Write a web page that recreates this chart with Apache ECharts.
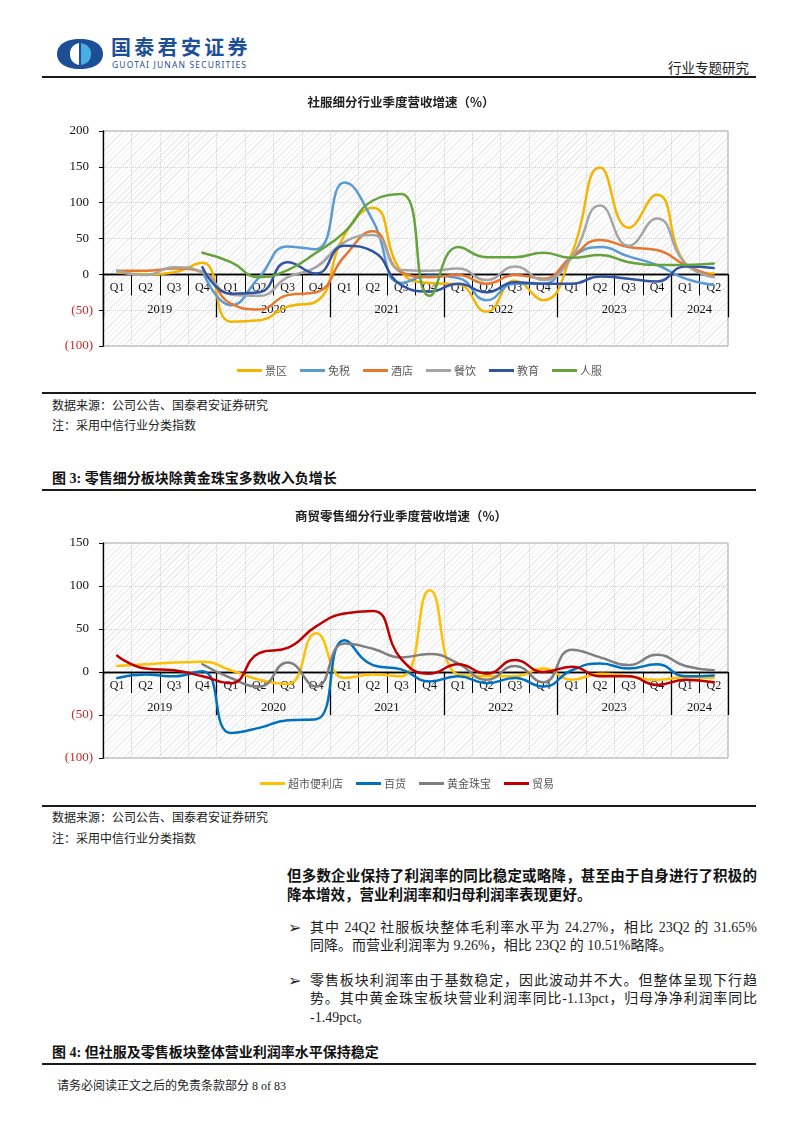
<!DOCTYPE html>
<html><head><meta charset="utf-8">
<script src="https://cdn.jsdelivr.net/npm/echarts@6/dist/echarts.min.js"></script>
<style>
html,body{margin:0;padding:0;background:#fff;}
#page{position:relative;width:802px;height:1133px;overflow:hidden;background:#fff;font-family:"Liberation Serif","Noto Sans CJK SC",serif;color:#111;}
.t{position:absolute;white-space:nowrap;}
.rule{position:absolute;left:42px;width:714px;height:2px;background:#1a1a1a;}
.hatch{position:absolute;background:repeating-linear-gradient(-45deg,#fff 0,#fff 3px,#ececec 3px,#ececec 4px);}
.chart{position:absolute;left:0;width:802px;height:300px;}
.j{text-align:justify;text-align-last:justify;white-space:normal;}
.src{font-size:12px;line-height:14px;color:#222;}
.fig{font-size:14px;line-height:16px;font-weight:bold;color:#111;}
.body{font-size:14px;line-height:18px;color:#222;}
.bold{font-size:14.5px;line-height:18px;font-weight:bold;color:#111;}
.bul{font-size:16px;line-height:18px;color:#222;font-family:'DejaVu Sans';}
</style></head>
<body><div id="page">
<svg class="t" style="left:57px;top:39px" width="46" height="30" viewBox="0 0 46 30">
 <path d="M23 0 C7 0 0 7 0 15 C0 23 7 30 23 30 C39 30 46 23 46 15 C46 7 39 0 23 0Z" fill="#1d4f97"/>
 <path d="M22 4 C15 6 13 10 13 15 C13 20 15 24 22 26 Z" fill="#fff"/>
 <path d="M24 4 C32 6 34 10 34 15 C34 20 32 24 24 26 Z" fill="#49aee8"/>
</svg>
<div class="t" style="left:111px;top:35px;font-size:20px;line-height:24px;font-weight:bold;color:#1d4f97;font-family:'Noto Sans CJK SC';letter-spacing:3.3px">国泰君安证券</div>
<div class="t" style="left:112px;top:60px;font-size:8.5px;line-height:10px;color:#1d4f97;font-family:'Noto Sans','DejaVu Sans';letter-spacing:1.15px">GUOTAI JUNAN SECURITIES</div>
<div class="t" style="left:668px;top:59px;font-size:13.5px;line-height:16px;color:#222;font-family:'Noto Sans CJK SC'">行业专题研究</div>
<div class="rule" style="top:76px"></div>

<div class="hatch" style="left:103px;top:131px;width:625px;height:215px"></div>
<div id="c1" class="chart" style="top:90px"></div>
<div class="rule" style="top:392px"></div>
<div class="t src" style="left:52px;top:399px">数据来源：公司公告、国泰君安证券研究</div>
<div class="t src" style="left:52px;top:419px">注：采用中信行业分类指数</div>
<div class="t fig" style="left:52px;top:471px">图 3: 零售细分板块除黄金珠宝多数收入负增长</div>
<div class="rule" style="top:489px"></div>

<div class="hatch" style="left:103px;top:543px;width:625px;height:215px"></div>
<div id="c2" class="chart" style="top:500px"></div>
<div class="rule" style="top:805px"></div>
<div class="t src" style="left:52px;top:811px">数据来源：公司公告、国泰君安证券研究</div>
<div class="t src" style="left:52px;top:832px">注：采用中信行业分类指数</div>

<div class="t bold j" style="left:287px;top:867px;width:470px">但多数企业保持了利润率的同比稳定或略降，甚至由于自身进行了积极的</div>
<div class="t bold" style="left:287px;top:886px">降本增效，营业利润率和归母利润率表现更好。</div>
<div class="t bul" style="left:288px;top:919px">➢</div>
<div class="t body j" style="left:310px;top:919px;width:447px">其中 24Q2 社服板块整体毛利率水平为 24.27%，相比 23Q2 的 31.65%</div>
<div class="t body" style="left:310px;top:937px">同降。而营业利润率为 9.26%，相比 23Q2 的 10.51%略降。</div>
<div class="t bul" style="left:288px;top:972px">➢</div>
<div class="t body j" style="left:310px;top:972px;width:447px">零售板块利润率由于基数稳定，因此波动并不大。但整体呈现下行趋</div>
<div class="t body j" style="left:310px;top:990px;width:447px">势。其中黄金珠宝板块营业利润率同比-1.13pct，归母净净利润率同比</div>
<div class="t body" style="left:310px;top:1009px">-1.49pct。</div>
<div class="t fig" style="left:52px;top:1045px">图 4: 但社服及零售板块整体营业利润率水平保持稳定</div>
<div class="rule" style="top:1063px"></div>
<div class="t src" style="left:57px;top:1079px">请务必阅读正文之后的免责条款部分 8 of 83</div>
</div>
<script>
// ---------- data ----------
const years = ['2019','2020','2021','2022','2023','2024'];
const quartersPerYear = [4,4,4,4,4,2];
const quarterNames = ['Q1','Q2','Q3','Q4'];

const chart1Title = '社服细分行业季度营收增速（%）';
const chart1Names = ['景区','免税','酒店','餐饮','教育','人服'];
const chart1Colors = ['#F3B500','#5B9BD5','#E8772E','#A5A5A5','#2F55A4','#65A33C'];
const scenic    = [3, 0, 3, 16, -66, -64, -45, -38, 55, 93, 4, -12, -14, -52, -9, -36, 29, 149, 65, 111, 15, 1];
const dutyFree  = [null, null, null, 5, -43, -4, 39, 35, 128, 75, -12, -2, -5, -36, -13, -13, 24, 38, 25, 13, -6, -15];
const hotel     = [5, 5, 8, 3, -41, -49, -29, -25, 25, 60, 3, -4, -1, -13, -1, -6, 24, 48, 38, 34, 13, -3];
const catering  = [5, -1, 10, 3, -28, -30, -4, 10, 45, 55, 6, 5, 8, -8, 11, -8, 24, 96, 40, 78, 15, -4];
const education = [null, null, null, 10, -27, -25, 17, 1, 40, 32, -15, -24, -13, -25, -11, -13, -13, -3, -6, -10, 11, 9];
const apparel   = [null, null, null, 30, 17, -4, 6, 30, 59, 103, 112, -30, 38, 24, 24, 30, 23, 27, 17, 13, 13, 15];

const chart2Title = '商贸零售细分行业季度营收增速（%）';
const chart2Names = ['超市便利店','百货','黄金珠宝','贸易'];
const chart2Colors = ['#FFC000','#0070C0','#7F7F7F','#C00000'];
const supermarket = [7, 9, 11, 12, 2, -9, -14, 45, -7, -3, -5, 95, -3, -5, -5, 4, -9, -2, -5, -9, -6, -7];
const deptStore   = [-7, -3, -5, 1, -71, -65, -56, -55, 37, 8, 3, -11, -5, -13, -7, -17, 2, 10, 4, 9, -5, -4];
const goldJewelry = [null, null, null, 9, -7, -17, 11, -17, 33, 27, 17, 21, 10, -9, 7, -12, 26, 17, 8, 20, 7, 2];
const trade       = [19, 4, 2, -5, -13, 22, 28, 53, 68, 71, 15, -2, 9, -2, 14, 0, 6, -5, -5, -15, -9, -12];

// ---------- axis helpers ----------
const categories = [];
years.forEach((y, i) => { for (let q = 0; q < quartersPerYear[i]; q++) categories.push(y + quarterNames[q]); });
const yearSlots = [];
for (let i = 0; i <= categories.length; i++) yearSlots.push('s' + i);
const yearBoundary = {}; const yearCenter = {};
let acc = 0; yearBoundary[0] = true;
years.forEach((y, i) => { yearCenter[acc + quartersPerYear[i] / 2] = y; acc += quartersPerYear[i]; yearBoundary[acc] = true; });

const SERIF = 'Liberation Serif';
const SANS = 'Noto Sans CJK SC';
const GRID_H = 215;

function buildOption(title, names, colors, dataList, yMin, yMax, legendLeft, titleTop, gridTop, legendTop) {
  // place the category axes on the zero value of the y scale
  const zeroOffset = -GRID_H * (0 - yMin) / (yMax - yMin);
  return {
    animation: false,
    title: { text: title, left: 'center', top: titleTop, padding: 0,
      textStyle: { fontFamily: SANS, fontSize: 12.5, fontWeight: 'bold', color: '#222' } },
    legend: { data: names, left: legendLeft, top: legendTop, icon: 'rect', itemWidth: 25, itemHeight: 3, itemGap: 13,
      selectedMode: false, textStyle: { fontFamily: SANS, fontSize: 11, color: '#595959', padding: [0, 0, 0, -2] } },
    grid: { left: 103, top: gridTop, width: 625, height: GRID_H, show: true, borderColor: '#a0a0a0', borderWidth: 1,
      backgroundColor: 'transparent', containLabel: false, outerBoundsMode: 'none' },
    xAxis: [
      { type: 'category', data: categories, boundaryGap: true, position: 'bottom', offset: zeroOffset,
        axisLine: { show: true, onZero: false, lineStyle: { color: '#000', width: 1.3 } },
        axisTick: { show: true, interval: 0, length: 21, lineStyle: { color: '#000', width: 1 } },
        axisLabel: { interval: 0, margin: 8, fontFamily: SERIF, fontSize: 12, color: '#111',
          formatter: v => v.slice(4) },
        splitLine: { show: true, interval: 0, lineStyle: { color: '#d2d2d2', type: 'dotted', width: 1 } } },
      { type: 'category', data: yearSlots, boundaryGap: false, position: 'bottom', offset: zeroOffset,
        axisLine: { show: true, onZero: false, lineStyle: { color: '#000', width: 1.3 } },
        axisTick: { show: true, length: 43, interval: (i) => !!yearBoundary[i], lineStyle: { color: '#000', width: 1.3 } },
        axisLabel: { interval: (i) => yearCenter[i] !== undefined, margin: 29, fontFamily: SERIF, fontSize: 12.5, color: '#111',
          formatter: (v, i) => yearCenter[i] || '' },
        splitLine: { show: false } }
    ],
    yAxis: { type: 'value', min: yMin, max: yMax, interval: 50,
      axisLine: { show: true, onZero: false, lineStyle: { color: '#000', width: 1.3 } },
      axisTick: { show: true, length: 4, lineStyle: { color: '#000' } },
      axisLabel: { margin: 10, fontFamily: SERIF, fontSize: 13,
        formatter: v => v < 0 ? '{n|(' + (-v) + ')}' : '{p|' + v + '}',
        rich: { n: { color: '#C62828', fontFamily: SERIF, fontSize: 13 },
                p: { color: '#111', fontFamily: SERIF, fontSize: 13, padding: [0, 4, 0, 0] } } },
      splitLine: { show: true, lineStyle: { color: '#d2d2d2', type: 'dotted', width: 1 } } },
    series: names.map((n, k) => ({
      name: n, type: 'line', data: dataList[k], smooth: 0.5, symbol: 'none',
      xAxisIndex: 0, yAxisIndex: 0, color: colors[k],
      lineStyle: { width: 2.5, color: colors[k], cap: 'round', join: 'round' }
    }))
  };
}

const c1 = echarts.init(document.getElementById('c1'), null, { renderer: 'canvas' });
c1.setOption(buildOption(chart1Title, chart1Names, chart1Colors,
  [scenic, dutyFree, hotel, catering, education, apparel], -100, 200, 232, 6, 41, 270));
const c2 = echarts.init(document.getElementById('c2'), null, { renderer: 'canvas' });
c2.setOption(buildOption(chart2Title, chart2Names, chart2Colors,
  [supermarket, deptStore, goldJewelry, trade], -100, 150, 255, 10, 43, 273));
</script>
</body></html>
